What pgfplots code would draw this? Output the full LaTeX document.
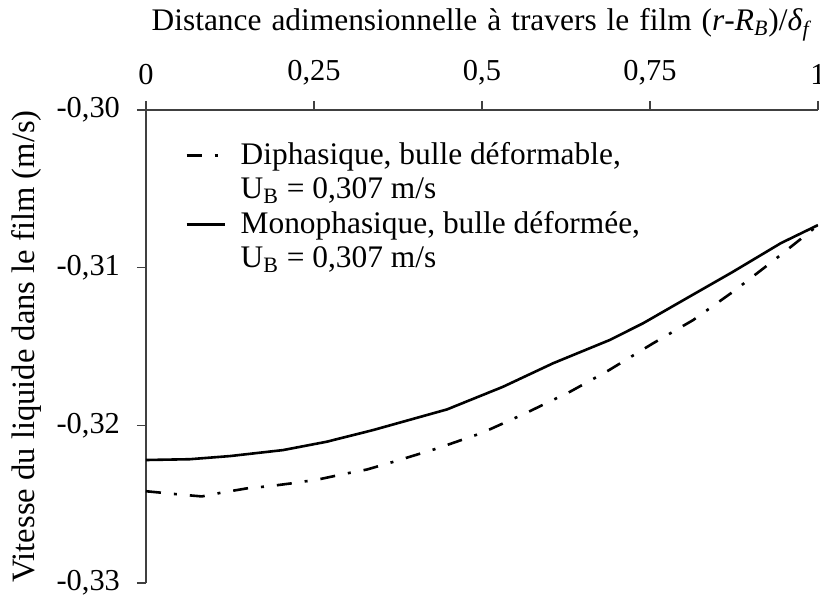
\documentclass[border=0pt]{standalone}
\usepackage{fontspec}
\setmainfont{Liberation Serif}
\usepackage{pgfplots}
\pgfplotsset{compat=1.18}
\newcommand{\fs}{\fontsize{15.2}{18}\selectfont}
\newcommand{\fl}{\fontsize{15.7}{18}\selectfont}
\begin{document}
\begin{tikzpicture}
\begin{axis}[
  width=336pt, height=236.5pt, scale only axis,
  xmin=0, xmax=1, ymin=-0.33, ymax=-0.30, enlargelimits=false,
  axis x line=top, axis y line=left,
  axis line style={-, black!75, line width=0.6pt},
  tick style={black!75, line width=0.6pt},
  tick align=outside,
  major tick length=4.5pt,
  xtick={0,0.25,0.5,0.75,1},
  xticklabels={0,{0,25},{0,5},{0,75},1},
  ytick={-0.33,-0.32,-0.31,-0.30},
  yticklabels={{-0,33},{-0,32},{-0,31},{-0,30}},
  tick label style={font=\fs},
  xticklabel style={yshift=4.5pt},
  yticklabel style={xshift=-5pt},
  xlabel={{\spaceskip=5pt Distance adimensionnelle à travers le film (\textit{r}-\textit{R}\textsubscript{\textit{B}})/\textit{δ}\textsubscript{\textit{f}}}},
  ylabel={Vitesse du liquide dans le film (m/s)},
  label style={font=\fl},
  xlabel style={at={(axis description cs:0.5,1.1797)}, anchor=center},
  ylabel style={at={(axis description cs:-0.1771,0.5)}, anchor=center, font=\fontsize{16.3}{19}\selectfont},
  legend style={draw=none, fill=none, font=\fl, at={(axis description cs:0.058,0.94)}, anchor=north west, row sep=1pt, inner sep=0pt},
  legend cell align=left,
  legend image code/.code={\draw[#1] (0pt,0pt) -- (19pt,0pt); \path[draw=none] (0pt,0pt) -- (25pt,0pt);},
]
\addplot[black, line width=1.3pt, dash pattern=on 7.5pt off 6.5pt on 1.5pt off 6.5pt] coordinates {
(0,-0.32418) (0.046,-0.32437) (0.083,-0.32451) (0.115,-0.32425) (0.150,-0.32400)
(0.1875,-0.32384) (0.222,-0.32365) (0.259,-0.32341) (0.293,-0.3231) (0.329,-0.3228)
(0.363,-0.32238) (0.433,-0.32147) (0.500,-0.32048) (0.564,-0.31925) (0.631,-0.31787)
(0.6875,-0.31654) (0.7545,-0.3148) (0.814,-0.31333) (0.8735,-0.31153) (0.9315,-0.30963)
(0.988,-0.30772) (1.0,-0.3073)};
\addlegendentry{Diphasique, bulle déformable,}
\addlegendimage{empty legend}
\addlegendentry{U\textsubscript{B} = 0,307 m/s}
\addplot[black, line width=1.3pt] coordinates {
(0,-0.3222) (0.065,-0.32215) (0.125,-0.32195) (0.204,-0.32157) (0.269,-0.32104)
(0.338,-0.3203) (0.448,-0.31899) (0.531,-0.31756) (0.606,-0.31606) (0.690,-0.31459)
(0.740,-0.31352) (0.805,-0.31193) (0.8735,-0.31026) (0.945,-0.30844) (1.0,-0.3073)};
\addlegendentry{Monophasique, bulle déformée,}
\addlegendimage{empty legend}
\addlegendentry{U\textsubscript{B} = 0,307 m/s}
\end{axis}
\pgfresetboundingbox
\path ([shift={(-73pt,-7.5pt)}]current axis.south west) rectangle ([shift={(1pt,55pt)}]current axis.north east);
\end{tikzpicture}
\end{document}
